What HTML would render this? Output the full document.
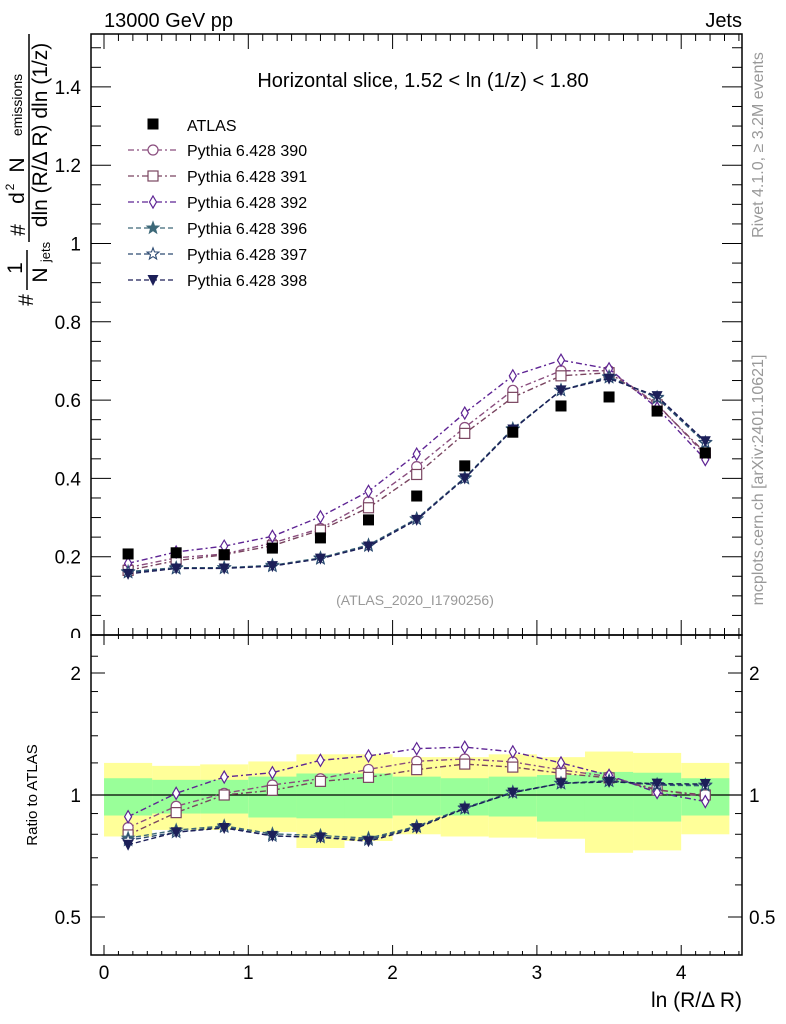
<!DOCTYPE html>
<html><head><meta charset="utf-8"><style>
body{margin:0;background:#fff;}
svg{display:block;font-family:"Liberation Sans",sans-serif;}
</style></head><body>
<svg id="c" width="786" height="1024" viewBox="0 0 786 1024"></svg>
<script>
const xs=[0.167,0.5,0.833,1.167,1.5,1.833,2.167,2.5,2.833,3.167,3.5,3.833,4.167];
const atlas=[0.207,0.21,0.205,0.222,0.248,0.294,0.355,0.432,0.518,0.585,0.608,0.572,0.465];
const p390=[0.172,0.197,0.207,0.235,0.272,0.34,0.43,0.53,0.625,0.675,0.675,0.59,0.46];
const p391=[0.165,0.19,0.205,0.228,0.268,0.325,0.41,0.515,0.607,0.662,0.67,0.588,0.465];
const p392=[0.183,0.212,0.227,0.252,0.302,0.367,0.462,0.567,0.662,0.702,0.68,0.58,0.448];
const p396=[0.162,0.172,0.172,0.178,0.197,0.23,0.297,0.402,0.527,0.625,0.66,0.605,0.49];
const p397=[0.16,0.17,0.171,0.176,0.195,0.228,0.296,0.4,0.525,0.625,0.658,0.607,0.492];
const p398=[0.156,0.17,0.17,0.176,0.195,0.226,0.294,0.4,0.525,0.625,0.655,0.61,0.495];
const gUp=[1.10,1.09,1.09,1.11,1.13,1.13,1.11,1.10,1.11,1.12,1.14,1.135,1.10];
const gLo=[0.89,0.90,0.90,0.88,0.876,0.876,0.89,0.89,0.885,0.86,0.86,0.86,0.89];
const yUp=[1.20,1.18,1.19,1.21,1.26,1.26,1.24,1.24,1.26,1.24,1.28,1.27,1.20];
const yLo=[0.79,0.82,0.82,0.81,0.74,0.77,0.80,0.79,0.785,0.78,0.72,0.73,0.80];
const mainTicks=[0,0.2,0.4,0.6,0.8,1,1.2,1.4];
const mainTickLabels=["0","0.2","0.4","0.6","0.8","1","1.2","1.4"];
const ratioTicks=[0.5,1,2];
const ratioTickLabels=["0.5","1","2"];
const xTicks=[0,1,2,3,4];
const xTickLabels=["0","1","2","3","4"];

const NS="http://www.w3.org/2000/svg";
const svg=document.getElementById('c');
const L=91,R=742,T=34,MB=635,RB=955;
const X=v=>104+v*144.3;
const Y=v=>635-v*391.5;
const YR=r=>795-Math.log2(r)*122;
function el(tag,attrs,parent){const e=document.createElementNS(NS,tag);for(const k in attrs)e.setAttribute(k,attrs[k]);(parent||svg).appendChild(e);return e;}
function txt(s,attrs,parent){const e=el('text',attrs,parent);e.textContent=s;return e;}

// bands
const bands=el('g',{});


for(let i=0;i<xs.length;i++){
  const x0=X(xs[i]-0.1667),x1=X(xs[i]+0.1667);
  const y=el('rect',{x:x0,y:YR(yUp[i]),width:x1-x0,height:YR(yLo[i])-YR(yUp[i]),fill:'#ffff99'},bands);
  
  
}
for(let i=0;i<xs.length;i++){
  const x0=X(xs[i]-0.1667),x1=X(xs[i]+0.1667);
  const g=el('rect',{x:x0,y:YR(gUp[i]),width:x1-x0,height:YR(gLo[i])-YR(gUp[i]),fill:'#99ff99'},bands);
  
  
}
el('line',{x1:L,x2:R,y1:YR(1),y2:YR(1),stroke:'#000','stroke-width':1.2});

// frames
el('rect',{x:L,y:T,width:R-L,height:MB-T,fill:'none',stroke:'#000','stroke-width':1.5});
el('rect',{x:L,y:MB,width:R-L,height:RB-MB,fill:'none',stroke:'#000','stroke-width':1.5});

// x ticks
for(let v=0;v<=4.4;v+=0.1){
  const vv=Math.round(v*10)/10; const maj=Math.abs(vv-Math.round(vv))<1e-6;
  const x=X(vv); if(x>R) break;
  el('line',{x1:x,x2:x,y1:T,y2:T+(maj?15:7),stroke:'#000'});
  el('line',{x1:x,x2:x,y1:MB,y2:MB-(maj?15:7),stroke:'#000'});
  el('line',{x1:x,x2:x,y1:MB,y2:MB+(maj?10:4),stroke:'#000'});
  el('line',{x1:x,x2:x,y1:RB,y2:RB-(maj?10:4),stroke:'#000'});
}
xTicks.forEach((v,i)=>{const t=txt(xTickLabels[i],{x:X(v),y:979,'font-size':19,'text-anchor':'middle'});
});
const xt=txt('ln (R/Δ R)',{x:742,y:1007,'font-size':21,'text-anchor':'end'});


// main y ticks
for(let v=0;v<=1.52;v+=0.05){
  const vv=Math.round(v*100)/100; const maj=Math.abs(vv*5-Math.round(vv*5))<1e-6;
  const len=maj?20:10;
  el('line',{x1:L,x2:L+len,y1:Y(vv),y2:Y(vv),stroke:'#000'});
  el('line',{x1:R,x2:R-len,y1:Y(vv),y2:Y(vv),stroke:'#000'});
}
mainTicks.forEach((v,i)=>{const t=txt(mainTickLabels[i],{x:81,y:Y(v)+7,'font-size':19,'text-anchor':'end'});
});
el('rect',{x:60,y:638,width:30,height:12,fill:'#fff'});
// ratio y ticks
const minors=[0.5,0.6,0.7,0.8,0.9,1,1.2,1.4,1.6,1.8,2,2.2];
for(const r of minors){const maj=ratioTicks.includes(r);const len=maj?14:7;
  el('line',{x1:L,x2:L+len,y1:YR(r),y2:YR(r),stroke:'#000'});
  el('line',{x1:R,x2:R-len,y1:YR(r),y2:YR(r),stroke:'#000'});}
ratioTicks.forEach((v,i)=>{
  const a=txt(ratioTickLabels[i],{x:81,y:YR(v)+7,'font-size':19,'text-anchor':'end'});
  
  const b=txt(ratioTickLabels[i],{x:749,y:YR(v)+7,'font-size':19});
  
});

// labels
let t;
t=txt('13000 GeV pp',{x:104,y:27,'font-size':20});
t=txt('Jets',{x:742,y:27,'font-size':20,'text-anchor':'end'});
t=txt('Horizontal slice, 1.52 < ln (1/z) < 1.80',{x:423,y:87,'font-size':20,'text-anchor':'middle'});
t=txt('(ATLAS_2020_I1790256)',{x:415,y:605,'font-size':14,'text-anchor':'middle',fill:'#999'});
t=txt('Rivet 4.1.0, ≥ 3.2M events',{x:0,y:0,'font-size':16,fill:'#999','text-anchor':'middle',transform:'translate(763,145) rotate(-90)'});
t=txt('mcplots.cern.ch [arXiv:2401.10621]',{x:0,y:0,'font-size':16,fill:'#999','text-anchor':'middle',transform:'translate(763,480) rotate(-90)'});
t=txt('Ratio to ATLAS',{x:0,y:0,'font-size':15,'text-anchor':'middle',transform:'translate(37,795) rotate(-90)'});
const yl=el('g',{transform:'rotate(-90)'});

txt('#',{x:-300,y:33,'font-size':21,'text-anchor':'middle'},yl);
txt('1',{x:-268,y:22,'font-size':21,'text-anchor':'middle'},yl);
el('line',{x1:-290,x2:-250,y1:27,y2:27,stroke:'#000','stroke-width':1.5},yl);
txt('N',{x:-275,y:47,'font-size':21,'text-anchor':'middle'},yl);
txt('jets',{x:-252,y:50,'font-size':13,'text-anchor':'middle'},yl);
txt('#',{x:-230,y:25,'font-size':21,'text-anchor':'middle'},yl);
txt('d',{x:-198,y:24,'font-size':21,'text-anchor':'middle'},yl);
txt('2',{x:-187,y:14,'font-size':12,'text-anchor':'middle'},yl);
txt('N',{x:-165,y:24,'font-size':21,'text-anchor':'middle'},yl);
txt('emissions',{x:-105,y:22,'font-size':14,'text-anchor':'middle'},yl);
el('line',{x1:-242,x2:-34,y1:29,y2:29,stroke:'#000','stroke-width':1.5},yl);
txt('dln (R/Δ R) dln (1/z)',{x:-135,y:47,'font-size':21,'text-anchor':'middle'},yl);

// markers
function marker(g,type,x,y,c){
  const s=5;
  if(type==='sqf') return el('rect',{x:x-5.5,y:y-5.5,width:11,height:11,fill:'#000'},g);
  if(type==='circ') return el('circle',{cx:x,cy:y,r:s,fill:'#fff',stroke:c,'stroke-width':1.2},g);
  if(type==='sq') return el('rect',{x:x-s,y:y-s,width:2*s,height:2*s,fill:'#fff',stroke:c,'stroke-width':1.2},g);
  if(type==='dia') return el('polygon',{points:`${x},${y-6} ${x+3.5},${y} ${x},${y+6} ${x-3.5},${y}`,fill:'#fff',stroke:c,'stroke-width':1.2},g);
  if(type==='starf'||type==='star'){let p=[];for(let k=0;k<10;k++){const r=k%2?2.6:6.2;const a=-Math.PI/2+k*Math.PI/5;p.push((x+r*Math.cos(a)).toFixed(1)+','+(y+r*Math.sin(a)).toFixed(1));}
    return el('polygon',{points:p.join(' '),fill:type==='starf'?c:'#fff',stroke:c,'stroke-width':1.1},g);}
  if(type==='tri') return el('polygon',{points:`${x-5.5},${y-5} ${x+5.5},${y-5} ${x},${y+6}`,fill:c},g);
}
const series=[
 {name:'Pythia 6.428 390',d:p390,c:'#8a4d7e',m:'circ',dash:'6,3,2,3',id:'series-390'},
 {name:'Pythia 6.428 391',d:p391,c:'#7a4560',m:'sq',dash:'6,3,2,3',id:'series-391'},
 {name:'Pythia 6.428 392',d:p392,c:'#5e2494',m:'dia',dash:'6,3,2,3',id:'series-392'},
 {name:'Pythia 6.428 396',d:p396,c:'#3d6878',m:'starf',dash:'5,3',id:'series-396'},
 {name:'Pythia 6.428 397',d:p397,c:'#2c4a72',m:'star',dash:'5,3',id:'series-397'},
 {name:'Pythia 6.428 398',d:p398,c:'#1c1f58',m:'tri',dash:'5,3',id:'series-398'},
];
series.forEach(s=>{
  const g=el('g',{});
  
  
  el('polyline',{points:xs.map((x,i)=>X(x)+','+Y(s.d[i])).join(' '),fill:'none',stroke:s.c,'stroke-width':1.4,'stroke-dasharray':s.dash},g);
  xs.forEach((x,i)=>marker(g,s.m,X(x),Y(s.d[i]),s.c));
  const gr=el('g',{});
  
  
  el('polyline',{points:xs.map((x,i)=>X(x)+','+YR(s.d[i]/atlas[i])).join(' '),fill:'none',stroke:s.c,'stroke-width':1.4,'stroke-dasharray':s.dash},gr);
  xs.forEach((x,i)=>marker(gr,s.m,X(x),YR(s.d[i]/atlas[i]),s.c));
});
const ga=el('g',{});


xs.forEach((x,i)=>marker(ga,'sqf',X(x),Y(atlas[i]),'#000'));

// legend
const lg=el('g',{});


const e0=el('g',{},lg);


marker(e0,'sqf',153,124,'#000');
txt('ATLAS',{x:187,y:131,'font-size':16},e0);
series.forEach((s,k)=>{
  const y=150+k*26;
  const e=el('g',{},lg);
  
  
  el('line',{x1:128,x2:176,y1:y,y2:y,stroke:s.c,'stroke-width':1.3,'stroke-dasharray':s.dash},e);
  marker(e,s.m,153,y,s.c);
  txt(s.name,{x:187,y:y+6,'font-size':16},e);
});
</script>
</body></html>
